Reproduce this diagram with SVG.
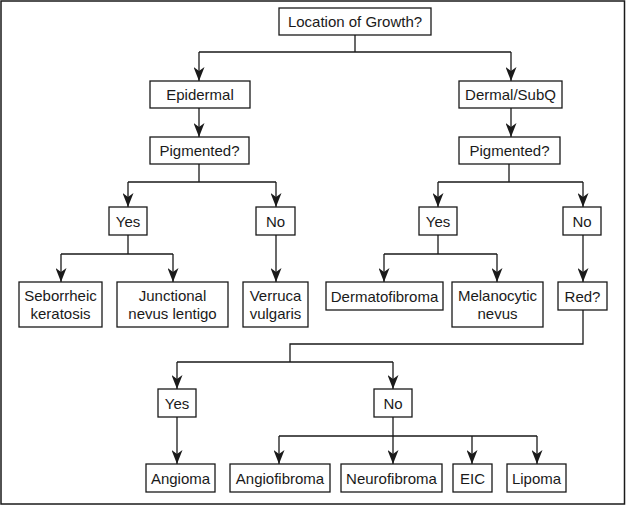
<svg xmlns="http://www.w3.org/2000/svg" width="626" height="506" viewBox="0 0 626 506">
<defs>
<style>
.box{fill:#fff;stroke:#1a1a1a;stroke-width:1.3}
.t{font-family:"Liberation Sans",Arial,sans-serif;font-size:15px;fill:#1a1a1a;text-anchor:middle}
.c{fill:none;stroke:#1a1a1a;stroke-width:1.3}
.a{marker-end:url(#ah)}
</style>
<marker id="ah" markerUnits="userSpaceOnUse" viewBox="0 0 14 11" refX="14" refY="5.5" markerWidth="14" markerHeight="11" orient="auto">
<path d="M0,0 L14,5.5 L0,11 L4,5.5 z" fill="#1a1a1a"/>
</marker>
</defs>
<rect x="1" y="1" width="623.5" height="503" fill="#fff" stroke="#1a1a1a" stroke-width="1.5"/>
<g id="connectors">
<path class="c" d="M355,35 V52 M199,52 H511"/>
<path class="c a" d="M199,52 V81"/>
<path class="c a" d="M511,52 V81"/>
<path class="c a" d="M199,108 V137"/>
<path class="c a" d="M511,108 V137"/>
<path class="c" d="M199,164 V182 M128,182 H276"/>
<path class="c a" d="M128,182 V207"/>
<path class="c a" d="M276,182 V207"/>
<path class="c" d="M128,235 V254 M61,254 H173"/>
<path class="c a" d="M61,254 V282"/>
<path class="c a" d="M173,254 V282"/>
<path class="c a" d="M276,235 V282"/>
<path class="c" d="M509,164 V182 M438,182 H583"/>
<path class="c a" d="M438,182 V207"/>
<path class="c a" d="M583,182 V207"/>
<path class="c" d="M438,235 V254 M384,254 H497"/>
<path class="c a" d="M384,254 V282"/>
<path class="c a" d="M497,254 V282"/>
<path class="c a" d="M583,235 V282"/>
<path class="c" d="M583,310 V344 H290 V362 M177,362 H393"/>
<path class="c a" d="M177,362 V389"/>
<path class="c a" d="M393,362 V389"/>
<path class="c a" d="M177,417 V464"/>
<path class="c" d="M393,417 V436 M279,436 H537"/>
<path class="c a" d="M279,436 V464"/>
<path class="c a" d="M393,436 V464"/>
<path class="c a" d="M472,436 V464"/>
<path class="c a" d="M537,436 V464"/>
</g>
<g id="location"><rect class="box" x="279" y="8" width="152" height="27"/><text class="t" x="355" y="27">Location of Growth?</text></g>
<g id="epidermal"><rect class="box" x="150" y="81" width="100" height="27"/><text class="t" x="200" y="100">Epidermal</text></g>
<g id="dermal"><rect class="box" x="459" y="81" width="103" height="27"/><text class="t" x="510.5" y="100">Dermal/SubQ</text></g>
<g id="pig-left"><rect class="box" x="150" y="137" width="99" height="27"/><text class="t" x="199.5" y="156">Pigmented?</text></g>
<g id="pig-right"><rect class="box" x="459" y="137" width="101" height="27"/><text class="t" x="509.5" y="156">Pigmented?</text></g>
<g id="yes-left"><rect class="box" x="109" y="207" width="38" height="28"/><text class="t" x="128" y="226.5">Yes</text></g>
<g id="no-left"><rect class="box" x="256" y="207" width="39" height="28"/><text class="t" x="275.5" y="226.5">No</text></g>
<g id="yes-right"><rect class="box" x="419" y="207" width="38" height="28"/><text class="t" x="438" y="226.5">Yes</text></g>
<g id="no-right"><rect class="box" x="563" y="207" width="38" height="28"/><text class="t" x="582" y="226.5">No</text></g>
<g id="seborrheic"><rect class="box" x="19" y="282" width="83" height="45"/><text class="t" x="60.5" y="301">Seborrheic</text><text class="t" x="60.5" y="319">keratosis</text></g>
<g id="junctional"><rect class="box" x="117" y="282" width="111" height="45"/><text class="t" x="172.5" y="301">Junctional</text><text class="t" x="172.5" y="319">nevus lentigo</text></g>
<g id="verruca"><rect class="box" x="243" y="282" width="65" height="45"/><text class="t" x="275.5" y="301">Verruca</text><text class="t" x="275.5" y="319">vulgaris</text></g>
<g id="dermatofibroma"><rect class="box" x="326" y="282" width="117" height="28"/><text class="t" x="384.5" y="301.5">Dermatofibroma</text></g>
<g id="melanocytic"><rect class="box" x="452" y="282" width="91" height="45"/><text class="t" x="497.5" y="301">Melanocytic</text><text class="t" x="497.5" y="319">nevus</text></g>
<g id="red"><rect class="box" x="558" y="282" width="49" height="28"/><text class="t" x="582.5" y="301.5">Red?</text></g>
<g id="yes-red"><rect class="box" x="158" y="389" width="38" height="28"/><text class="t" x="177" y="408.5">Yes</text></g>
<g id="no-red"><rect class="box" x="374" y="389" width="38" height="28"/><text class="t" x="393" y="408.5">No</text></g>
<g id="angioma"><rect class="box" x="146" y="464" width="69" height="28"/><text class="t" x="180.5" y="483.5">Angioma</text></g>
<g id="angiofibroma"><rect class="box" x="230" y="464" width="100" height="28"/><text class="t" x="280" y="483.5">Angiofibroma</text></g>
<g id="neurofibroma"><rect class="box" x="341" y="464" width="101" height="28"/><text class="t" x="391.5" y="483.5">Neurofibroma</text></g>
<g id="eic"><rect class="box" x="453" y="464" width="39" height="28"/><text class="t" x="472.5" y="483.5">EIC</text></g>
<g id="lipoma"><rect class="box" x="507" y="464" width="59" height="28"/><text class="t" x="536.5" y="483.5">Lipoma</text></g>
</svg>
